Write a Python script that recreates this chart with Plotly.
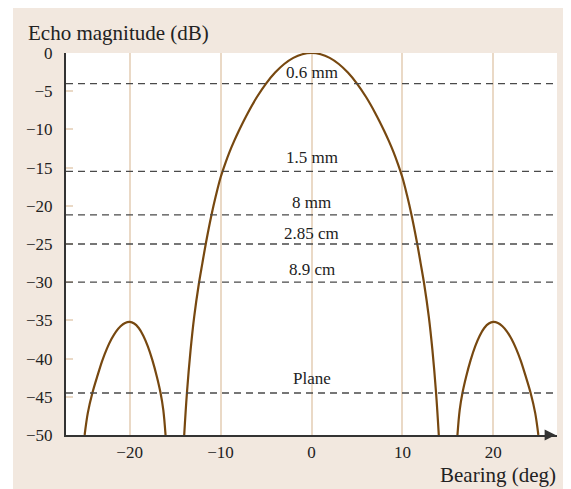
import plotly.graph_objects as go

# ---- data ----
main_lobe_deg = [-14.0, -13.7, -13.3, -12.9, -12.4, -12.0, -11.6, -11.0, -10.5, -10.0, -9.5, -9.0, -8.5, -8.0,
                 -7.0, -6.0, -5.0, -4.0, -3.0, -2.0, -1.0, 0.0,
                 1.0, 2.0, 3.0, 4.0, 5.0, 6.0, 7.0, 8.0, 8.5, 9.0, 9.5, 10.0, 10.5, 11.0, 11.6, 12.0, 12.4,
                 12.9, 13.3, 13.7, 14.0]
main_lobe_db = [-50, -44.5, -38.9, -34.5, -30.3, -27.5, -24.8, -21.2, -18.6, -16.3, -14.5, -12.9, -11.5, -10.2,
                -7.84, -5.76, -4.0, -2.56, -1.44, -0.64, -0.16, 0.0,
                -0.16, -0.64, -1.44, -2.56, -4.0, -5.76, -7.84, -10.2, -11.5, -12.9, -14.5, -16.3, -18.6,
                -21.2, -24.8, -27.5, -30.3, -34.5, -38.9, -44.5, -50]

left_side_deg = [-24.95, -24.6, -24.1, -23.5, -23.0, -22.5, -22.0, -21.5, -21.0, -20.5, -20.0,
                 -19.5, -19.0, -18.5, -18.0, -17.5, -17.0, -16.6, -16.3, -16.05]
left_side_db = [-50, -47.1, -44.5, -42.1, -40.24, -38.7, -37.44, -36.46, -35.76, -35.34, -35.2,
                -35.4, -36.0, -37.0, -38.4, -40.2, -42.4, -44.5, -46.7, -50]

right_side_deg = [16.05, 16.3, 16.6, 17.0, 17.5, 18.0, 18.5, 19.0, 19.5, 20.0,
                  20.5, 21.0, 21.5, 22.0, 22.5, 23.0, 23.5, 24.1, 24.6, 24.95]
right_side_db = [-50, -46.7, -44.5, -42.4, -40.2, -38.4, -37.0, -36.0, -35.4, -35.2,
                 -35.34, -35.76, -36.46, -37.44, -38.7, -40.24, -42.1, -44.5, -47.1, -50]

level_labels = ["0.6 mm", "1.5 mm", "8 mm", "2.85 cm", "8.9 cm", "Plane"]
level_db = [-4.0, -15.5, -21.2, -25.0, -30.0, -44.5]

x_ticks = [-20, -10, 0, 10, 20]
y_ticks = [0, -5, -10, -15, -20, -25, -30, -35, -40, -45, -50]

# ---- styling ----
BEIGE = "#f2e8df"
TAN = "#ead9c6"
CURVE = "#774810"
AXIS = "#333333"
FONT = "Liberation Serif, Times New Roman, serif"
label_shift = [11, 14, 12, 11, 13, 14]

# page body has an 8px margin: figure is offset by 8px right/down
OFF = 8
W, H = 571 - OFF, 489 - OFF
ML, MT, MR, MB = 66 - OFF, 53 - OFF, 14, 54
PW, PH = W - ML - MR, H - MT - MB


def px_x(px):  # page pixel x -> paper x
    return (px - OFF - ML) / PW


def px_y(py):  # page pixel y -> paper y
    return (H - MB - (py - OFF)) / PH


def fmt(t):
    return ("\u2212" if t < 0 else "") + str(abs(t))


fig = go.Figure()

for xs, ys in [(main_lobe_deg, main_lobe_db), (left_side_deg, left_side_db), (right_side_deg, right_side_db)]:
    fig.add_trace(go.Scatter(x=xs, y=ys, mode="lines",
                             line=dict(color=CURVE, width=2.2, shape="spline", smoothing=1.0),
                             hoverinfo="skip", showlegend=False))

for lab, v, s in zip(level_labels, level_db, label_shift):
    fig.add_hline(y=v, line=dict(color="#4a4a4a", width=1.3, dash="7px,5px"), layer="above")
    fig.add_annotation(x=0, y=v, xref="x", yref="y", text=lab, showarrow=False,
                       yanchor="middle", xanchor="center", yshift=s,
                       font=dict(family=FONT, size=17, color="#222"))

# white strip left of the beige panel
fig.add_shape(type="rect", xref="paper", yref="paper",
              x0=px_x(0), x1=px_x(13), y0=-0.3, y1=1.3,
              fillcolor="white", line=dict(width=0), layer="below")

# axis arrows
fig.add_annotation(x=0, y=0.3, xref="paper", yref="y", ax=0, ay=12, axref="pixel", ayref="pixel",
                   text="", showarrow=True, arrowhead=2, arrowsize=1.1, arrowwidth=2, arrowcolor=AXIS,
                   standoff=0)
fig.add_annotation(x=26.85, y=-50, xref="x", yref="y", ax=-12, ay=0,
                   text="", showarrow=True, arrowhead=2, arrowsize=1.1, arrowwidth=2, arrowcolor=AXIS,
                   standoff=0)

# axis titles
fig.add_annotation(x=px_x(26), y=px_y(33), xref="paper", yref="paper",
                   text="Echo magnitude (dB)", showarrow=False, xanchor="left", yanchor="middle",
                   font=dict(family=FONT, size=21, color="#222"))
fig.add_annotation(x=px_x(558), y=px_y(475), xref="paper", yref="paper",
                   text="Bearing (deg)", showarrow=False, xanchor="right", yanchor="middle",
                   font=dict(family=FONT, size=21, color="#222"))

fig.update_xaxes(range=[-27, 27], tickvals=x_ticks, ticktext=[fmt(t) for t in x_ticks],
                 showgrid=True, gridcolor=TAN, gridwidth=1.5, zeroline=False,
                 showline=True, linecolor=AXIS, linewidth=2, ticks="", ticklabelstandoff=1,
                 tickfont=dict(family=FONT, size=17, color="#222"), fixedrange=True)
fig.update_yaxes(range=[-50, 0], tickvals=y_ticks, ticktext=[fmt(t) for t in y_ticks],
                 showgrid=False, zeroline=False,
                 showline=True, linecolor=AXIS, linewidth=2, ticks="inside", ticklen=7, tickcolor=TAN, tickwidth=1.5,
                 ticklabelstandoff=8,
                 tickfont=dict(family=FONT, size=17, color="#222"), fixedrange=True)

fig.update_layout(width=W, height=H, margin=dict(l=ML, r=MR, t=MT, b=MB),
                  paper_bgcolor=BEIGE, plot_bgcolor="white", showlegend=False)

fig.write_html("out.html")
